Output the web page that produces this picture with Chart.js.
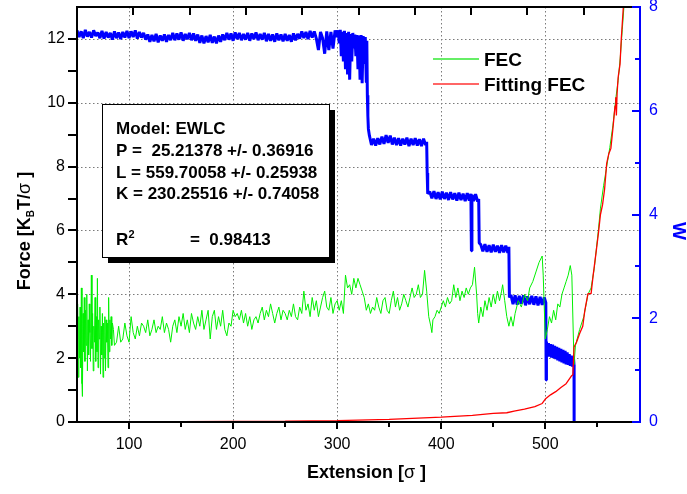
<!DOCTYPE html>
<html>
<head>
<meta charset="utf-8">
<script src="https://cdn.jsdelivr.net/npm/chart.js@4.4.1/dist/chart.umd.min.js"></script>
<style>
  html, body { margin: 0; padding: 0; background: #ffffff; }
  canvas { display: block; }
</style>
</head>
<body>
<canvas id="chart" width="687" height="494"></canvas>
<script>
// x axis: extension [sigma]; left axis: force; right axis: W
var xTicks = [100, 200, 300, 400, 500];
var xMinorTicks = [150, 250, 350, 450, 550];
var forceTicks = [0, 2, 4, 6, 8, 10, 12];
var forceMinorTicks = [1, 3, 5, 7, 9, 11];
var wTicks = [0, 2, 4, 6, 8];
var wMinorTicks = [1, 3, 5, 7];
var topTicks = [1, 2, 3, 4, 5, 6, 7, 8, 9];

var fitText = [
  "Model: EWLC",
  "P =  25.21378 +/- 0.36916",
  "L = 559.70058 +/- 0.25938",
  "K = 230.25516 +/- 0.74058"
];
var r2Text = "=  0.98413";

// [extension, W]
var wPoints = [
  [50,7.55],[52,7.42],[54,7.53],[56,7.40],[58,7.56],[60,7.43],[62,7.52],[64,7.41],[66,7.55],[68,7.44],[70,7.51],[72,7.40],[74,7.54],
  [76,7.39],[78,7.52],[80,7.41],[82,7.50],[84,7.37],[86,7.53],[88,7.40],[90,7.51],[92,7.38],[94,7.52],
  [96,7.41],[98,7.54],[100,7.40],[102,7.53],[104,7.42],[106,7.55],[108,7.39],[110,7.52],[112,7.41],[114,7.50],[116,7.37],
  [118,7.47],[120,7.33],[122,7.46],[124,7.34],[126,7.48],[128,7.32],[130,7.45],[132,7.35],[134,7.47],[136,7.33],[138,7.46],[140,7.36],
  [142,7.50],[144,7.36],[146,7.49],[148,7.37],[150,7.51],[152,7.35],[154,7.48],[156,7.38],[158,7.50],[160,7.36],[162,7.49],[164,7.35],[166,7.47],
  [168,7.31],[170,7.45],[172,7.30],[174,7.44],[176,7.32],[178,7.46],[180,7.31],[182,7.43],[184,7.30],[186,7.45],[188,7.33],[190,7.47],
  [192,7.36],[194,7.50],[196,7.37],[198,7.49],[200,7.35],[202,7.51],[204,7.38],[206,7.50],[208,7.36],[210,7.48],
  [212,7.37],[214,7.50],[216,7.35],[218,7.49],[220,7.38],[222,7.51],[224,7.36],[226,7.48],[228,7.37],[230,7.50],
  [232,7.34],[234,7.48],[236,7.35],[238,7.47],[240,7.33],[242,7.49],[244,7.36],[246,7.47],
  [248,7.34],[250,7.48],[252,7.35],[254,7.46],[256,7.33],[258,7.49],[260,7.36],[262,7.48],
  [264,7.39],[266,7.53],[268,7.40],[270,7.52],[272,7.38],[274,7.54],[276,7.41],[278,7.53],[280,7.39],[282,7.17],
  [284,7.52],[286,7.40],[288,7.10],[290,7.53],[292,7.17],[294,7.52],[296,7.20],[298,7.55],[300,7.42],
  [301,7.55],[302,7.30],[303,7.56],[304,7.05],[305,7.52],[306,6.95],[307,7.54],[308,6.80],[309,7.50],[310,6.70],
  [311,7.52],[312,6.60],[313,7.48],[314,6.95],[315,7.50],[316,7.20],[317,7.47],[318,7.05],[319,7.46],[320,6.80],
  [321,7.45],[322,6.60],[323,7.46],[324,6.53],[325,7.44],[326,6.90],[327,7.42],[328,6.55],[328.5,7.35],[329,6.30],
  [329.5,5.90],[330,5.65],[331,5.52],
  [333,5.34],[335,5.46],[337,5.33],[339,5.47],[341,5.35],[343,5.50],[345,5.36],[347,5.53],[349,5.38],[351,5.52],
  [353,5.35],[355,5.48],[357,5.34],[359,5.47],[361,5.33],[363,5.46],[365,5.35],[367,5.48],[369,5.32],[371,5.46],
  [373,5.34],[375,5.47],[377,5.33],[379,5.45],[381,5.32],[383,5.46],[385,5.34],[386,5.40],[386.5,4.80],[387,4.40],
  [389,4.44],[391,4.31],[393,4.45],[395,4.30],[397,4.43],[399,4.29],[401,4.44],[403,4.30],[405,4.42],[407,4.28],
  [409,4.43],[411,4.29],[413,4.41],[415,4.27],[417,4.42],[419,4.28],[421,4.40],[423,4.26],[425,4.41],[427,4.27],
  [428.5,4.40],[429,3.30],[429.5,4.38],[431,4.26],[433,4.39],[435,4.25],[436,4.30],[436.5,3.45],
  [438,3.42],[440,3.29],[442,3.43],[444,3.28],[446,3.41],[448,3.27],[450,3.42],[452,3.28],[454,3.40],[456,3.26],
  [458,3.41],[460,3.27],[462,3.40],[464,3.26],[465,3.38],[465.5,2.40],
  [467,2.45],[469,2.27],[471,2.44],[473,2.26],[475,2.43],[477,2.28],[479,2.44],[481,2.25],[483,2.42],[485,2.27],
  [487,2.43],[489,2.26],[491,2.42],[493,2.25],[495,2.41],[497,2.26],[499,2.40],[500.5,2.30],[500.8,0.81],[501.1,1.55],
  [502,1.27],[503,1.52],[504,1.26],[505,1.50],[506,1.24],[507,1.49],[508,1.23],[509,1.47],[510,1.21],[511,1.45],
  [512,1.19],[513,1.43],[514,1.17],[515,1.41],[516,1.15],[517,1.39],[518,1.13],[519,1.37],[520,1.11],[521,1.34],
  [522,1.10],[523,1.31],[524,1.08],[525,1.28],[526,1.07],[527,1.26],[527.6,1.10],[527.7,0]
];

// [extension, force] measured FEC
var fecPoints = [
  [50.0,2.6],[50.6,3.7],[51.2,1.4],[51.8,3.3],[52.4,2.0],[53.0,3.6],[53.6,1.7],[54.2,4.2],[54.8,1.2],[55.2,0.8],
  [55.8,3.4],[56.4,2.2],[57.0,3.9],[57.6,1.9],[58.2,3.5],[58.8,2.4],[59.4,4.0],[60.0,1.6],[60.6,3.2],[61.2,2.1],
  [61.8,3.7],[62.4,2.8],[63.0,1.9],[63.8,4.6],[64.4,2.3],[65.0,3.4],[65.6,1.6],[66.2,3.0],[66.8,2.5],[67.4,3.9],
  [68.0,1.9],[68.6,3.3],[69.2,2.2],[69.6,4.5],[70.2,1.7],[70.8,3.2],[71.4,2.6],[72.0,3.6],[72.6,1.5],[73.2,3.0],
  [73.8,2.1],[74.4,3.4],[75.0,1.4],[75.6,3.1],[76.2,2.0],[76.8,3.3],[77.4,1.6],[78.0,3.2],[78.6,2.5],[79.2,3.1],
  [79.8,1.7],[80.4,3.9],[81.0,2.2],[81.6,3.2],[82.2,2.6],[82.8,3.3],[83.4,2.4],[84.0,3.1],
  [85,2.9],[86,2.4],[88,2.5],[90,3.0],[92,2.5],[94,2.6],[96,3.1],[98,2.7],[100,2.5],[102,3.3],
  [104,2.8],[106,2.6],[108,3.0],[110,2.7],[112,3.1],[114,3.0],[116,2.8],[118,3.2],[120,2.7],[122,2.9],
  [124,3.2],[126,2.8],[128,3.0],[130,2.9],[132,3.3],[134,2.8],[136,3.1],[138,2.9],[140,2.5],[142,3.0],
  [144,3.2],[146,2.8],[148,3.3],[150,3.0],[152,3.4],[154,2.9],[156,3.2],[158,2.8],[160,3.4],[162,3.1],
  [164,2.9],[166,3.3],[168,3.0],[170,3.5],[172,2.9],[174,3.2],[176,3.5],[178,2.6],[180,3.3],[182,3.5],
  [184,2.9],[186,3.3],[188,3.0],[190,3.5],[192,2.9],[194,2.7],[196,3.1],[198,3.0],[200,3.5],[202,3.3],
  [204,3.4],[206,3.2],[208,3.5],[210,3.1],[212,3.4],[214,3.0],[216,3.3],[218,2.9],[220,3.2],[222,3.3],
  [224,3.1],[226,3.4],[228,3.6],[230,3.2],[232,3.5],[234,3.3],[236,3.7],[238,3.4],[240,3.1],[242,3.4],
  [244,3.6],[246,3.2],[248,3.5],[250,3.4],[252,3.2],[254,3.5],[256,3.3],[258,3.7],[260,3.3],[262,3.2],
  [264,3.6],[266,3.4],[268,4.1],[270,3.5],[272,3.7],[274,3.3],[276,3.9],[278,3.5],[280,3.8],[282,3.3],
  [284,3.6],[286,3.9],[288,4.1],[290,3.6],[292,3.5],[294,3.9],[296,3.4],[298,3.7],[300,3.8],[302,3.5],
  [304,3.8],[306,3.4],[308,4.6],[310,4.2],[312,4.3],[314,4.0],[316,4.5],[318,4.2],[320,4.5],[322,4.3],
  [324,4.1],[326,3.9],[328,3.5],[330,3.7],[332,3.4],[334,3.6],[336,3.5],[338,3.9],[340,3.6],[342,3.4],
  [344,3.8],[346,3.9],[348,3.5],[350,3.4],[352,3.8],[354,4.1],[356,3.6],[358,3.9],[360,3.5],[362,3.7],
  [364,4.0],[366,3.8],[368,3.6],[370,3.9],[372,4.2],[374,3.9],[376,4.0],[378,4.3],[380,3.9],[382,4.0],
  [384,4.75],[386,4.1],[388,3.3],[390,3.0],[391,2.8],[392,3.2],[394,3.3],[396,3.5],[398,3.4],[400,3.6],
  [402,3.8],[404,3.6],[406,3.9],[408,3.7],[410,3.8],[412,4.3],[414,3.9],[416,4.2],[418,3.8],[420,4.1],
  [422,3.9],[424,4.2],[426,4.0],[428,4.2],[430,4.3],[432,4.85],[434,4.0],[435,3.4],[436,3.1],[438,3.6],
  [440,3.3],[442,3.8],[444,3.5],[446,3.9],[448,3.6],[450,4.0],[452,3.7],[454,4.1],[456,3.8],[458,4.1],
  [459,4.3],[461,3.8],[463,3.3],[465,3.0],[467,3.3],[469,3.0],[471,3.4],[474,3.8],[477,3.6],[480,4.0],
  [483,3.8],[485,4.2],[488,4.4],[491,4.7],[494,5.0],[497,5.2],[498,4.6],[500,2.6],[502,2.9],[504,3.3],
  [506,3.1],[508,3.5],[510,3.2],[512,3.7],[514,3.6],[516,4.0],[518,4.2],[520,4.4],[522,4.6],[524,4.9],
  [525.5,4.6],[527.6,1.8],[529,2.4],[533,2.9],[537,3.3],[541,4.0],[544,4.2],[547,4.8],[549,5.4],[551,6.0],
  [553,6.7],[556,7.4],[559,8.0],[562,8.6],[565,9.3],[568,10.2],[570,10.7],[572,11.4],[574,12.3],[576,13.2]
];

// [extension, force] EWLC fit
var fitPoints = [
  [50,0.0],[100,0.005],[150,0.01],[200,0.02],[250,0.03],[300,0.045],[350,0.08],[400,0.15],[430,0.21],[450,0.27],
  [463,0.29],[470,0.34],[480,0.40],[490,0.48],[497,0.58],[500,0.72],[505,0.85],[510,0.95],[515,1.08],[520,1.20],
  [525,1.44],[526.5,1.48],[527.6,2.35],[530,2.50],[533,2.77],[536,3.00],[538,3.50],[541,4.02],[544,4.02],[546,4.60],
  [549,5.37],[551,5.90],[553,6.50],[555,6.80],[557,7.30],[559,8.10],[561,8.40],[563,8.57],[565,9.20],[567,9.90],
  [567.7,10.17],[568.3,9.60],[569,10.30],[570,10.80],[571.8,11.20],[573,12.00],[575,13.00],[576,13.40]
];

function toXY(points) {
  return points.map(function (p) {
    return { x: p[0], y: p[1] };
  });
}

var FONT = "'Liberation Sans', Arial, Helvetica, sans-serif";

function strokeLine(ctx, x1, y1, x2, y2) {
  ctx.beginPath();
  ctx.moveTo(x1, y1);
  ctx.lineTo(x2, y2);
  ctx.stroke();
}

var framePlugin = {
  id: "frame",
  beforeDatasetsDraw: function (chart) {
    var ctx = chart.ctx;
    var area = chart.chartArea;
    var x = chart.scales.x;
    var y = chart.scales.y;
    ctx.save();
    ctx.strokeStyle = "#7a7a7a";
    ctx.lineWidth = 1;
    ctx.setLineDash([1.5, 2.5]);
    xTicks.forEach(function (v) {
      var px = Math.round(x.getPixelForValue(v)) + 0.5;
      strokeLine(ctx, px, area.top, px, area.bottom);
    });
    forceTicks.forEach(function (v) {
      if (v === 0) return;
      var py = Math.round(y.getPixelForValue(v)) + 0.5;
      strokeLine(ctx, area.left, py, area.right, py);
    });
    ctx.restore();
  },
  afterDatasetsDraw: function (chart) {
    var ctx = chart.ctx;
    ctx.save();
    ctx.setLineDash([]);

    // fit result box with shadow
    var bx = 102, by = 104, bw = 227, bh = 153;
    ctx.fillStyle = "#000000";
    ctx.fillRect(bx + 6, by + 6, bw, bh);
    ctx.fillStyle = "#ffffff";
    ctx.fillRect(bx, by, bw, bh);
    ctx.lineWidth = 1;
    ctx.strokeStyle = "#000000";
    ctx.strokeRect(bx + 0.5, by + 0.5, bw, bh);

    ctx.fillStyle = "#000000";
    ctx.textAlign = "left";
    ctx.textBaseline = "alphabetic";
    ctx.font = "bold 17px " + FONT;
    var baselines = [133.5, 156, 177.5, 198.5];
    fitText.forEach(function (t, i) {
      ctx.fillText(t, 116, baselines[i]);
    });
    ctx.fillText("R", 116, 245);
    ctx.fillText(r2Text, 190, 245);
    ctx.font = "bold 11px " + FONT;
    ctx.fillText("2", 128.5, 238);

    // legend
    ctx.lineWidth = 2;
    ctx.strokeStyle = "#66ee66";
    strokeLine(ctx, 433, 59, 479, 59);
    ctx.strokeStyle = "#ff6666";
    strokeLine(ctx, 433, 84, 479, 84);
    ctx.font = "bold 19px " + FONT;
    ctx.fillStyle = "#000000";
    ctx.fillText("FEC", 484, 66);
    ctx.fillText("Fitting FEC", 484, 91);
    ctx.restore();
  },
  afterDraw: function (chart) {
    var ctx = chart.ctx;
    var area = chart.chartArea;
    var x = chart.scales.x;
    var y = chart.scales.y;
    var w = chart.scales.y2;
    var top = chart.scales.xTop;
    var left = Math.round(area.left);
    var right = Math.round(area.right);
    var upper = Math.round(area.top);
    var lower = Math.round(area.bottom);
    ctx.save();
    ctx.setLineDash([]);

    // axis frame
    ctx.fillStyle = "#000000";
    ctx.fillRect(left - 1, upper - 1, right - left + 1, 2);
    ctx.fillRect(left - 1, lower - 1, right - left + 1, 2);
    ctx.fillRect(left - 1, upper - 1, 2, lower - upper + 2);
    ctx.fillStyle = "#0000ff";
    ctx.fillRect(right - 1, upper - 1, 2, lower - upper + 2);

    // ticks
    ctx.fillStyle = "#000000";
    xTicks.forEach(function (v) {
      ctx.fillRect(Math.round(x.getPixelForValue(v)) - 1, lower, 2, 7);
    });
    xMinorTicks.forEach(function (v) {
      ctx.fillRect(Math.round(x.getPixelForValue(v)) - 1, lower, 2, 5);
    });
    topTicks.forEach(function (v) {
      ctx.fillRect(Math.round(top.getPixelForValue(v)) - 1, upper, 2, 8);
    });
    forceTicks.concat(forceMinorTicks).forEach(function (v) {
      ctx.fillRect(left - 9, Math.round(y.getPixelForValue(v)) - 1, 9, 2);
    });
    ctx.fillStyle = "#0000ff";
    wTicks.forEach(function (v) {
      ctx.fillRect(right - 8, Math.round(w.getPixelForValue(v)) - 1, 8, 2);
    });
    wMinorTicks.forEach(function (v) {
      ctx.fillRect(right - 5, Math.round(w.getPixelForValue(v)) - 1, 5, 2);
    });

    ctx.fillStyle = "#000000";
    ctx.textBaseline = "alphabetic";
    ctx.textAlign = "left";

    // left title with subscript
    var big = "bold 18px " + FONT;
    var small = "bold 10px " + FONT;
    var parts = [["Force [K", big, 0], ["B", small, 4], ["T/", big, 0], ["\u03c3", "18px " + FONT, 0], [" ]", big, 0]];
    var total = 0;
    parts.forEach(function (p) { ctx.font = p[1]; total += ctx.measureText(p[0]).width; });
    ctx.translate(30, 231);
    ctx.rotate(-Math.PI / 2);
    var cx = -total / 2;
    parts.forEach(function (p) {
      ctx.font = p[1];
      ctx.fillText(p[0], cx, p[2]);
      cx += ctx.measureText(p[0]).width;
    });
    ctx.setTransform(1, 0, 0, 1, 0, 0);

    // bottom title
    var bparts = [["Extension [", big], ["\u03c3", "18px " + FONT], [" ]", big]];
    total = 0;
    bparts.forEach(function (p) { ctx.font = p[1]; total += ctx.measureText(p[0]).width; });
    cx = (area.left + area.right) / 2 + 8 - total / 2;
    bparts.forEach(function (p) {
      ctx.font = p[1];
      ctx.fillText(p[0], cx, 478);
      cx += ctx.measureText(p[0]).width;
    });

    // right title
    ctx.fillStyle = "#0000ff";
    ctx.font = "bold 19px " + FONT;
    ctx.textAlign = "center";
    ctx.textBaseline = "middle";
    ctx.translate(678, 231);
    ctx.rotate(Math.PI / 2);
    ctx.fillText("W", 0, 0);
    ctx.restore();
  }
};

new Chart(document.getElementById("chart"), {
  type: "line",
  data: {
    datasets: [
      { label: "Fitting FEC", data: toXY(fitPoints), yAxisID: "y", borderColor: "#ff0000", borderWidth: 1.3 },
      { label: "FEC", data: toXY(fecPoints), yAxisID: "y", borderColor: "#00f000", borderWidth: 1 },
      { label: "W", data: toXY(wPoints), yAxisID: "y2", borderColor: "#0000ff", borderWidth: 3 }
    ]
  },
  options: {
    responsive: false,
    animation: false,
    events: [],
    layout: { padding: { top: 7, left: 0, right: 0, bottom: 0 } },
    elements: {
      point: { radius: 0 },
      line: { tension: 0, fill: false, borderJoinStyle: "bevel" }
    },
    plugins: { legend: { display: false }, tooltip: { enabled: false } },
    scales: {
      x: {
        type: "linear",
        position: "bottom",
        min: 50,
        max: 591,
        afterBuildTicks: function (s) { s.ticks = xTicks.map(function (v) { return { value: v }; }); },
        afterFit: function (s) { s.height = 72; s.paddingLeft = 0; s.paddingRight = 0; },
        grid: { display: false, drawTicks: false },
        border: { display: false },
        ticks: { color: "#000000", padding: 13, maxRotation: 0, font: { family: FONT, size: 16 } }
      },
      xTop: {
        type: "linear",
        position: "top",
        min: 0,
        max: 10,
        display: false
      },
      y: {
        type: "linear",
        position: "left",
        min: 0,
        max: 13,
        afterBuildTicks: function (s) { s.ticks = forceTicks.map(function (v) { return { value: v }; }); },
        afterFit: function (s) { s.width = 77; s.paddingTop = 0; s.paddingBottom = 0; },
        grid: { display: false, drawTicks: false },
        border: { display: false },
        ticks: { color: "#000000", padding: 12, font: { family: FONT, size: 16 } }
      },
      y2: {
        type: "linear",
        position: "right",
        min: 0,
        max: 8,
        afterBuildTicks: function (s) { s.ticks = wTicks.map(function (v) { return { value: v }; }); },
        afterFit: function (s) { s.width = 47; s.paddingTop = 0; s.paddingBottom = 0; },
        grid: { display: false, drawTicks: false },
        border: { display: false },
        ticks: { color: "#0000ff", padding: 9, font: { family: FONT, size: 16 } }
      }
    }
  },
  plugins: [framePlugin]
});
</script>
</body>
</html>
